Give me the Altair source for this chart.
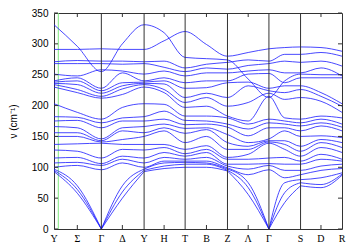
import altair as alt
import pandas as pd

# x positions of sampled points along the path (high-symmetry points and segment midpoints)
positions = [0, 23.3, 47.3, 68.3, 90, 110, 131, 152.3, 173.3, 194, 214.7, 230.5, 246.3, 266.7, 287.7]
# each path segment spans three sampled points
segments = [[0, 1, 2], [2, 3, 4], [4, 5, 6], [6, 7, 8], [8, 9, 10], [10, 11, 12], [12, 13, 14]]

# path labels
label_pos = [0, 23.3, 47.3, 68.3, 90, 110, 131, 152.3, 173.3, 194, 214.7, 246.3, 266.7, 287.7]
label_text = ["Y", "Σ", "Γ", "Δ", "Y", "H", "T", "B", "Z", "Λ", "Γ", "S", "D", "R"]
vline_pos = [47.3, 90, 131, 173.3, 214.7, 246.3]
mid_tick_pos = [23.3, 68.3, 110, 152.3, 194, 266.7]
green_pos = [4.3]
y_ticks = [0, 50, 100, 150, 200, 250, 300, 350]

# two distinct upper branches
band_flat = [291, 291, 292, 291, 291, 305, 320, 299, 280, 286, 292, 294, 295, 294, 288]
band_peak = [331, 296, 255, 300, 331, 318, 278, 276, 274, 243, 213, 240, 251, 250, 250]

# remaining branches, listed per sampled point (highest to lowest); last three are acoustic
col_Y1 = [271, 268, 251, 240, 238, 236, 234, 230, 203, 182, 175, 166, 156, 150, 137, 128, 115, 107, 100, 97, 95, 93]
col_Sigma = [273, 268, 248, 245, 240, 234, 226, 221, 189, 181, 176, 164, 156, 150, 138, 126, 116, 108, 103, 70, 64, 58]
col_G1 = [272, 268, 258, 228, 224, 220, 215, 212, 178, 172, 164, 146, 143, 141, 139, 115, 106, 103, 96, 0, 0, 0]
col_Delta = [272, 267, 256, 253, 237, 232, 227, 218, 197, 180, 175, 164, 159, 145, 137, 129, 118, 113, 107, 70, 60, 50]
col_Y2 = [271, 268, 251, 240, 238, 236, 234, 230, 203, 182, 175, 166, 156, 150, 137, 128, 115, 107, 100, 97, 95, 93]
col_H = [272, 262, 256, 245, 240, 235, 226, 221, 202, 191, 178, 170, 164, 159, 137, 132, 124, 116, 110, 107, 102, 98]
col_T = [261, 255, 248, 237, 228, 213, 205, 197, 183, 176, 169, 163, 155, 140, 129, 122, 118, 113, 110, 108, 105, 100]
col_B = [267, 261, 253, 240, 229, 220, 213, 199, 183, 175, 170, 164, 161, 150, 135, 129, 124, 116, 110, 107, 105, 100]
col_Z = [270, 259, 253, 240, 237, 213, 199, 183, 180, 170, 165, 153, 140, 129, 116, 113, 105, 102, 99, 97, 95, 94]
col_Lambda = [274, 265, 256, 251, 238, 232, 205, 175, 170, 162, 151, 140, 134, 129, 121, 113, 105, 97, 88, 75, 67, 56]
col_G2 = [272, 268, 258, 252, 228, 224, 220, 215, 178, 172, 164, 146, 143, 141, 139, 115, 106, 103, 96, 0, 0, 0]
col_GS = [283, 272, 253, 237, 232, 221, 210, 180, 175, 170, 164, 159, 143, 137, 129, 116, 105, 95, 83, 75, 59, 43]
col_S = [283, 270, 253, 245, 232, 226, 213, 178, 172, 167, 159, 150, 134, 126, 118, 110, 105, 95, 88, 80, 75, 70]
col_D = [286, 272, 261, 245, 221, 215, 207, 183, 178, 172, 167, 151, 145, 140, 132, 121, 113, 102, 95, 83, 72, 67]
col_R = [280, 264, 248, 245, 203, 199, 189, 180, 170, 165, 159, 148, 140, 132, 124, 113, 110, 105, 98, 91, 89, 87]

columns = [col_Y1, col_Sigma, col_G1, col_Delta, col_Y2, col_H, col_T, col_B, col_Z,
           col_Lambda, col_G2, col_GS, col_S, col_D, col_R]
n_acoustic = 3

rows = []
for s, idx in enumerate(segments):
    for j in idx:
        x = positions[j]
        rows.append({"band": "flat", "x": x, "f": band_flat[j]})
        rows.append({"band": "peak", "x": x, "f": band_peak[j]})
        col = columns[j]
        for i, v in enumerate(col):
            # acoustic branches get a kink at each path point; optical ones run smoothly
            name = f"b{i}_{s}" if i >= len(col) - n_acoustic else f"b{i}"
            rows.append({"band": name, "x": x, "f": v})
df = pd.DataFrame(rows).drop_duplicates(subset=["band", "x"])

W, H = 288, 216


def xenc():
    return alt.X("x:Q", scale=alt.Scale(domain=[0, 287.7], nice=False, zero=False), axis=None)


def yenc():
    return alt.Y("f:Q", scale=alt.Scale(domain=[0, 350], nice=False, zero=False),
                 axis=alt.Axis(values=y_ticks, title="ν (cm⁻¹)", ticks=False,
                               domain=False, grid=False, labelFontSize=10,
                               labelFont="Liberation Sans", labelColor="black",
                               labelPadding=6, titleFont="Liberation Sans",
                               titleFontSize=10, titleFontWeight="normal",
                               titleColor="black", titlePadding=13))


lines = alt.Chart(df).mark_line(color="#1a1aff", strokeWidth=0.8, interpolate="monotone").encode(
    x=xenc(), y=yenc(), detail="band:N", order="x:Q")

vrules = alt.Chart(pd.DataFrame({"x": vline_pos})).mark_rule(color="#333333", strokeWidth=1).encode(
    x=xenc())

green = alt.Chart(pd.DataFrame({"x": green_pos})).mark_rule(color="#80e880", strokeWidth=1).encode(
    x=xenc())

mid_df = pd.DataFrame({"x": mid_tick_pos})
top_ticks = alt.Chart(mid_df).mark_rule(color="#333333").encode(
    x=xenc(), y=alt.value(0), y2=alt.value(4))
bot_ticks = alt.Chart(mid_df).mark_rule(color="#333333").encode(
    x=xenc(), y=alt.value(H - 4), y2=alt.value(H))

yt_df = pd.DataFrame({"f": y_ticks})
left_ticks = alt.Chart(yt_df).mark_rule(color="#333333").encode(
    y=yenc(), x=alt.value(0), x2=alt.value(4))
right_ticks = alt.Chart(yt_df).mark_rule(color="#333333").encode(
    y=yenc(), x=alt.value(W - 4), x2=alt.value(W))

labels = alt.Chart(pd.DataFrame({"x": label_pos, "t": label_text})).mark_text(
    baseline="top", align="center", fontSize=10, font="Liberation Serif", color="black").encode(
    x=xenc(), y=alt.value(H + 5), text="t:N")

chart = alt.layer(green, lines, vrules, top_ticks, bot_ticks, left_ticks, right_ticks, labels).properties(
    width=W, height=H, padding=0,
).configure_view(stroke="#333333", strokeWidth=1)

chart.save("out.html", embed_options={"renderer": "svg", "actions": False})
